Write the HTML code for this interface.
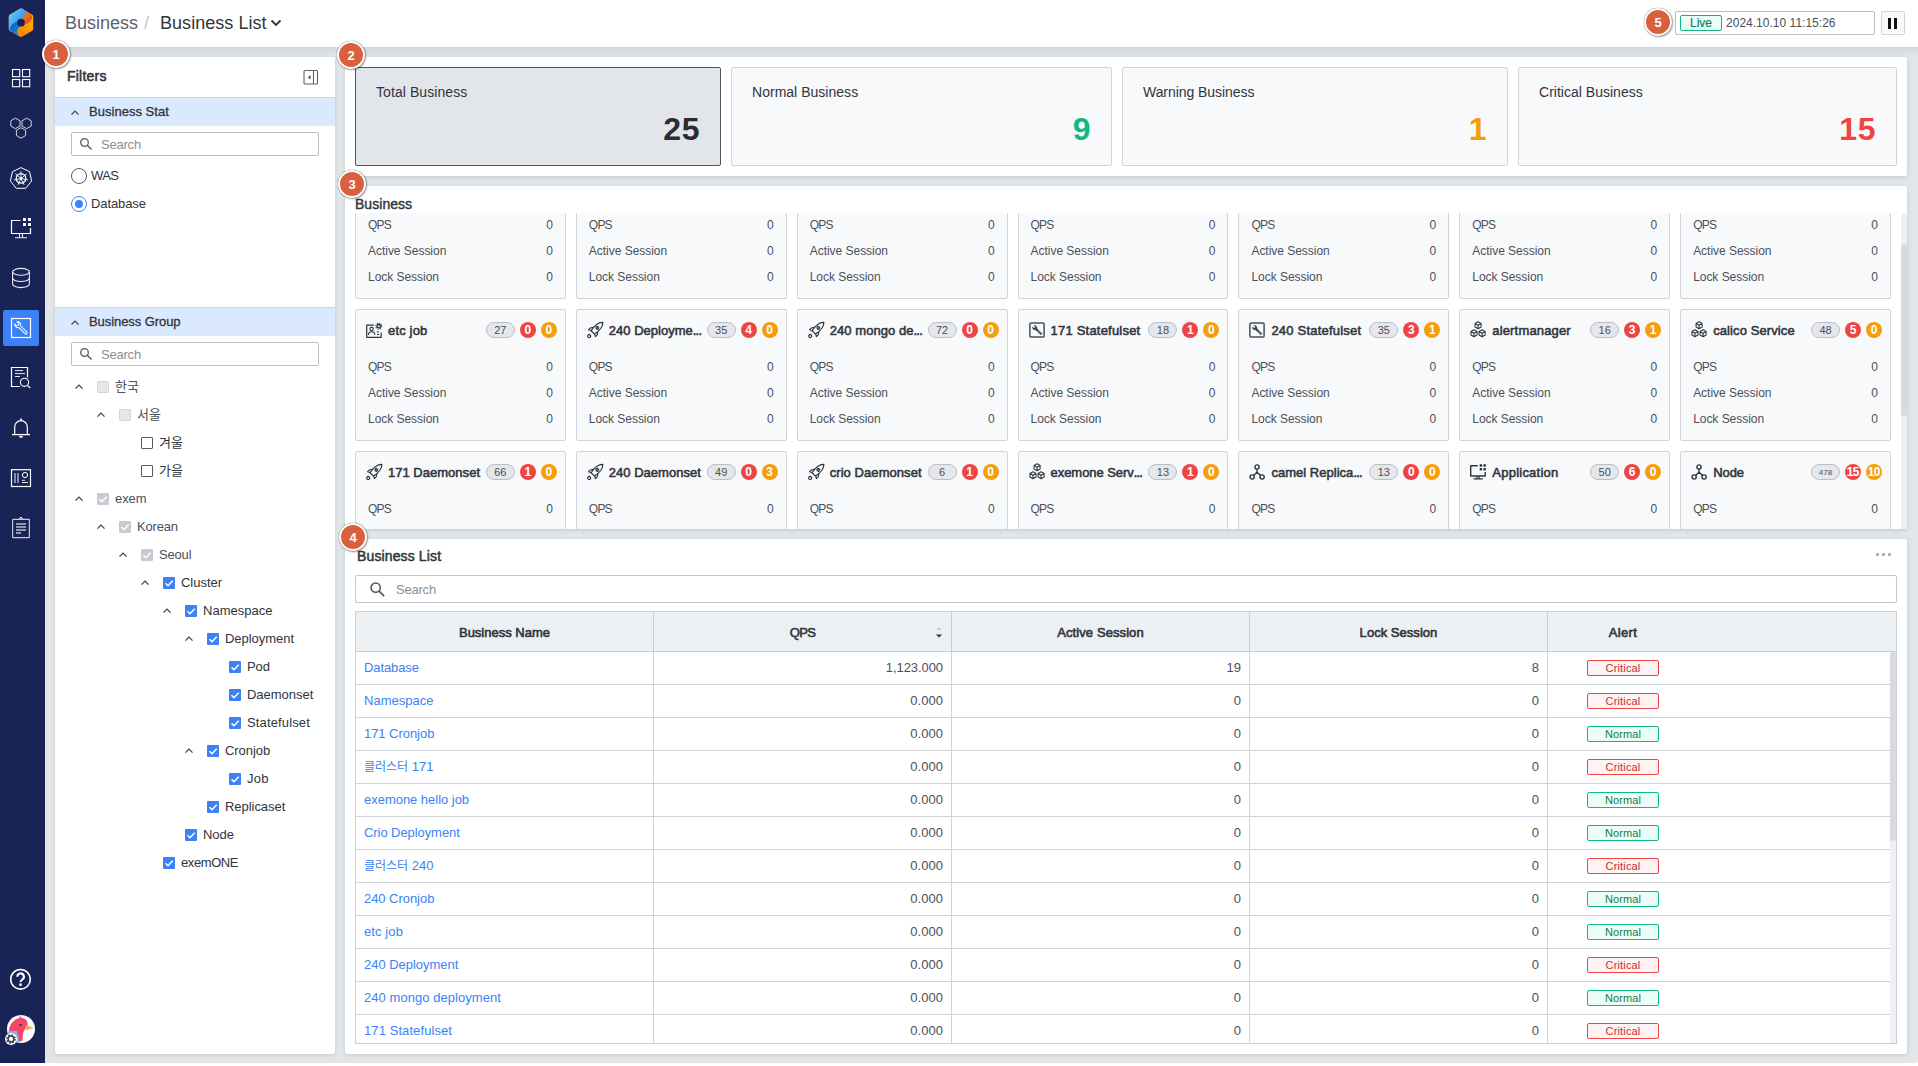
<!DOCTYPE html><html lang="ko"><head><meta charset="utf-8"><title>Business List</title><style>
*{box-sizing:border-box;margin:0;padding:0}
html,body{width:1918px;height:1066px;overflow:hidden;background:#fff}
body{position:relative;font-family:"Liberation Sans","Noto Sans CJK KR","NanumGothic",sans-serif;font-size:13px;color:#30353c;-webkit-font-smoothing:antialiased}
.abs{position:absolute}
.md{font-weight:normal;-webkit-text-stroke:.3px currentColor}
.bo{font-weight:normal;-webkit-text-stroke:.55px currentColor}
.ko{font-size:12px}
#side{left:0;top:0;width:45px;height:1063px;background:#182456}
#side .act{position:absolute;left:3px;top:310px;width:36px;height:36px;background:#3c82f6;border-radius:2px}
#hdr{left:45px;top:0;width:1873px;height:47px;background:#fff}
#main{left:45px;top:47px;width:1873px;height:1016px;background:#e2e6e9;border-bottom-right-radius:3px;
 background-image:linear-gradient(#d3d7dc,#e2e6e9 9px)}
.panel{position:absolute;background:#fff;border-radius:2px;box-shadow:0 1px 4px rgba(60,70,85,.18)}
.crumb{position:absolute;top:12px;font-size:18px;line-height:22px;white-space:nowrap}
.num{position:absolute;width:28px;height:28px;border-radius:50%;background:#d9603f;border:2px solid #fff;
 box-shadow:0 0 1px rgba(0,0,0,.7),1px 1px 2px rgba(0,0,0,.35);color:#fff;font-weight:bold;font-size:13px;line-height:25px;text-align:center;z-index:5}
.sec{position:absolute;left:0;width:280px;height:29px;background:#dbe9fe;border-top:1px solid #cfd6e0;font-size:13px;line-height:28px;padding-left:34px;color:#30353c;-webkit-text-stroke:.3px #30353c}
.sec svg{position:absolute;left:14px;top:10px}
.sbox{position:absolute;height:24px;border:1px solid #b9bec7;border-radius:2px;background:#fff;color:#8a8f98;font-size:13px;line-height:24px}
.sbox svg{position:absolute;left:7px;top:4px}
.tr{position:absolute;height:16px;line-height:16px;font-size:13px;white-space:nowrap;color:#30353c}
.cb{position:absolute;width:12px;height:12px;border-radius:1px}
.cb.on{background:#3c82f6}
.cb.off{border:1px solid #555b64;background:#fff}
.cb.dis{background:#e5e7eb;border:1px solid #d4d7dc}
.cb.dison{background:#c8ccd2}
.cb svg{position:absolute;left:0;top:0}
.stat{position:absolute;top:10px;height:99px;border:1px solid #d1d5db;border-radius:2px;background:#f8f9fb}
.stat.sel{background:#e2e5e9;border-color:#4b5563}
.stat .t{position:absolute;left:20px;top:15px;font-size:14px;line-height:18px;color:#30353c}
.stat .v{position:absolute;right:20px;top:41px;font-size:32px;line-height:40px;font-weight:bold}
#grid{position:absolute;left:10px;top:27px;width:1536px;height:316px;overflow:hidden}
#gridin{position:absolute;left:0;top:-46px;width:1536px;display:grid;grid-template-columns:repeat(7,1fr);gap:10px}
.card{position:relative;height:132px;border:1px solid #d1d5db;border-radius:2px;background:#f8f9fb}
.card .ti{position:absolute;left:32px;top:12px;font-size:13px;letter-spacing:.15px;line-height:18px;white-space:nowrap;color:#30353c;-webkit-text-stroke:.55px #30353c}
.card .ic{position:absolute;left:10px;top:12px;width:16px;height:16px}
.card .pill{position:absolute;right:50px;top:12px;width:29px;height:16px;border-radius:8px;border:1px solid #b9bec7;background:#e5e7eb;font-size:11px;line-height:14px;text-align:center;color:#4b5058}
.card .c1,.card .c2{position:absolute;top:12px;width:16px;height:16px;border-radius:50%;color:#fff;font-weight:bold;font-size:12px;line-height:17px;text-align:center}
.card .c1{right:29px;background:#ef4444}
.card .c2{right:8px;background:#f59e0b}
.card .l{position:absolute;left:12px;font-size:12px;line-height:16px;color:#4b5058}
.card .r{position:absolute;right:12px;font-size:12px;line-height:16px;color:#4b5058}
.th{position:absolute;top:72px;height:41px;background:#edf0f3;border:1px solid #c9ced6;border-left:none;font-size:13px;line-height:42px;text-align:center;color:#30353c;-webkit-text-stroke:.6px #30353c}
.row{position:absolute;left:10px;width:1536px;height:33px;border-bottom:1px solid #cfd3da}
.td{position:absolute;top:0;height:33px;line-height:32px;font-size:13px;border-right:1px solid #cfd3da;color:#4b5058;padding:0 8px;white-space:nowrap}
.td a{color:#3b82f6;text-decoration:none}
.bd{position:absolute;left:39px;top:8px;width:72px;height:16px;border-radius:2px;font-size:11px;line-height:14px;text-align:center}
.bd.c{border:1px solid #ef4444;background:#fef2f2;color:#c53030}
.bd.n{border:1px solid #10b981;background:#ecfdf5;color:#0f7a55}
</style></head><body>
<div id="side" class="abs">
<div class="act"></div>
<svg class="abs" style="left:0;top:0" width="45" height="1063" viewBox="0 0 45 1063" fill="none" stroke="#fff" stroke-width="1.1">
<defs><linearGradient id="lg1" x1="0" y1="0" x2="1" y2="1"><stop offset="0" stop-color="#62ccff"/><stop offset="1" stop-color="#2a7be8"/></linearGradient>
<linearGradient id="lg2" x1="0" y1="1" x2="1" y2="0"><stop offset="0" stop-color="#ff7a00"/><stop offset="1" stop-color="#ffb300"/></linearGradient>
<linearGradient id="lg3" x1="0" y1="0" x2="1" y2="1"><stop offset="0" stop-color="#f58a2a"/><stop offset="1" stop-color="#e2470f"/></linearGradient>
<linearGradient id="lg4" x1="0" y1="0" x2="1" y2="1"><stop offset="0" stop-color="#0f4fc4"/><stop offset="1" stop-color="#109be0"/></linearGradient></defs>
<g stroke="none">
<path d="M21 10.600 L31.200 16.500 V29 L21 34.900 L10.800 29 V16.500 Z" fill="url(#lg2)" stroke="url(#lg2)" stroke-width="4" stroke-linejoin="round"/>
<path d="M21 10.600 C23 10.600 24.500 12.500 24 14.500 C22.500 18 11 20 11.500 29.500 L10.800 29 V16.500 Z" fill="url(#lg1)" stroke="url(#lg1)" stroke-width="4" stroke-linejoin="round"/>
<path d="M10 29.500 C10 24 17 21 21 20.500 C19 24 20.500 26.500 18 29 C17 31 17 33 18.500 35.300 C16 35 12 32.500 10 29.500 Z" fill="url(#lg4)"/>
<path d="M25 11 C28 12 30.500 13.500 32 16 C33 19.500 30 22 26 24.500 C25 22 23 20.500 21 20.500 C23.500 18 26.500 15 25 11Z" fill="url(#lg3)"/>
<circle cx="21" cy="22.700" r="3.900" fill="#182456"/></g>
<rect x="12.5" y="69.5" width="7.200" height="7.200"/>
<rect x="12.5" y="79.5" width="7.200" height="7.200"/>
<rect x="22.5" y="69.5" width="7.200" height="7.200"/>
<rect x="22.5" y="79.5" width="7.200" height="7.200"/>
<polygon points="15.40,118.10 19.99,120.75 19.99,126.05 15.40,128.70 10.81,126.05 10.81,120.75" stroke-width=".9" stroke-opacity=".900"/>
<polygon points="26.60,118.10 31.19,120.75 31.19,126.05 26.60,128.70 22.01,126.05 22.01,120.75" stroke-width=".9" stroke-opacity=".900"/>
<polygon points="21.00,127.60 25.59,130.25 25.59,135.55 21.00,138.20 16.41,135.55 16.41,130.25" stroke-width=".9" stroke-opacity=".900"/>
<polygon points="21.00,167.60 29.52,171.70 31.63,180.93 25.73,188.32 16.27,188.32 10.37,180.93 12.48,171.70" stroke-linejoin="round" stroke-width="1"/>
<circle cx="21" cy="178.400" r="4.800" stroke-width="1.200"/>
<line x1="21" y1="178.400" x2="21.00" y2="171.20" stroke-width=".9"/>
<line x1="21" y1="178.400" x2="26.63" y2="173.91" stroke-width=".9"/>
<line x1="21" y1="178.400" x2="28.02" y2="180.00" stroke-width=".9"/>
<line x1="21" y1="178.400" x2="24.12" y2="184.89" stroke-width=".9"/>
<line x1="21" y1="178.400" x2="17.88" y2="184.89" stroke-width=".9"/>
<line x1="21" y1="178.400" x2="13.98" y2="180.00" stroke-width=".9"/>
<line x1="21" y1="178.400" x2="15.37" y2="173.91" stroke-width=".9"/>
<circle cx="21" cy="178.400" r="1.200" fill="#fff" stroke="none"/>
<path d="M20.500 220.500H11.500V233.500H30.500V228" stroke-width="1.200"/><path d="M19.500 233.500v4M22.500 233.500v4M15 237.700h12" stroke-width="1.100" stroke-opacity=".900"/>
<g fill="#fff" stroke="none"><rect x="23" y="218" width="3" height="3"/><rect x="28" y="218" width="3" height="3"/><rect x="23" y="223" width="3" height="3"/><rect x="28" y="223" width="3" height="3"/></g>
<g stroke-opacity=".900"><ellipse cx="21" cy="271.800" rx="8.400" ry="3.400"/><path d="M12.600 271.800v12.300c0 2 3.800 3.500 8.400 3.500s8.400-1.500 8.400-3.500v-12.300"/><path d="M12.500 278c0 2 3.800 3.500 8.500 3.500s8.500-1.500 8.500-3.500"/></g>
<rect x="11.500" y="318.500" width="19" height="19" stroke-width="1.200"/>
<g transform="translate(21 328) rotate(-45)"><path d="M-1.200 -1.600 V 6.800 a1.200 1.200 0 0 0 2.400 0 V -1.600 A3.500 3.500 0 0 0 1.600 -7.400 V -4.600 L0 -3.700 L-1.600 -4.600 V -7.400 A3.500 3.500 0 0 0 -1.200 -1.600 Z" stroke-width="1" stroke-linejoin="round"/></g>
<path d="M20 386.500H11.500V367.500H27.500V377.500" stroke-width="1.200"/><path d="M15 370.600h8M15 373.600h10M15 376.500h5" stroke-width="1" stroke-opacity=".900"/><circle cx="24.500" cy="382.300" r="4.100" stroke-width="1.100"/><path d="M27.500 385.300l2.700 2.700" stroke-width="1.200"/>
<path d="M14.700 434.500V427a6.300 6.300 0 0 1 12.600 0v7.500" stroke-width="1.200"/><path d="M12 434.600h18" stroke-width="1.300"/><path d="M21 418.500v2" stroke-width="1.600"/><path d="M19.300 436.800h3.400" stroke-width="1.600"/>
<rect x="11.500" y="469.700" width="19" height="16.800" stroke-width="1.200"/><path d="M15 473v10M18 473v10" stroke-width="1.600" stroke-opacity=".600"/><circle cx="25" cy="475" r="2.600" stroke-width="1"/><path d="M22 480.300h3M22 482.500h6" stroke-width="1" stroke-opacity=".900"/>
<rect x="12.600" y="519.300" width="16.800" height="18.400" rx=".8" stroke-width="1.200" stroke-opacity=".750"/><path d="M19.500 519a1.500 1.500 0 0 1 3 0" stroke-width="1"/><path d="M16 524h10M16 527h10M16 530h10M16 533h5" stroke-width="1.300" stroke-opacity=".700"/>
<circle cx="20.500" cy="979.300" r="9.800" stroke-width="1.600"/><path d="M17.300 976.700a3.300 3.300 0 1 1 4.900 2.900c-1.200.7-1.600 1.300-1.600 2.500" stroke-width="2.100"/><circle cx="20.500" cy="984.700" r="1.400" fill="#fff" stroke="none"/>
<g stroke="none"><circle cx="21" cy="1029" r="14" fill="#fff"/>
<path d="M9 1029c2-7 7-11 11-11l-.7-2.800 2.700 2.900c4 .5 6 3.500 5.500 7-.4 3-3 4-4 7-.9 3-.8 6-1 9-3 .4-6-.3-8-2.500l2-5.500-7 1z" fill="#f4476b"/>
<path d="M26 1025l7.500 2.700-7 2.800c-1.500-1.500-1.500-4-.5-5.500z" fill="#ffa55a"/>
<path d="M8 1031.500l8.500-.8c1.500 3 1.500 6 2.500 9.500l2 1.500c-5 1-10-1-13-6z" fill="#7fb9ea"/>
<circle cx="20.500" cy="1025" r="1" fill="#1a1a1a"/>
<circle cx="11" cy="1039" r="6" fill="#fff"/>
<circle cx="11" cy="1039" r="2.900" fill="none" stroke="#3a3f47" stroke-width="1.500"/>
<circle cx="11" cy="1039" r="4.100" fill="none" stroke="#3a3f47" stroke-width="1.500" stroke-dasharray="1.600 1.620"/></g>
</svg>
</div>
<div id="hdr" class="abs">
<div class="crumb" style="left:20px;color:#5b616b"><span style="letter-spacing:-0.021px">Business</span></div>
<div class="crumb" style="left:99px;color:#c3c7ce">/</div>
<div class="crumb" style="left:115px;color:#30353c"><span style="letter-spacing:0.041px">Business List</span></div>
<svg class="abs" style="left:225px;top:19px" width="12" height="8" viewBox="0 0 12 8"><path d="M1.500 1.500l4.500 4.500 4.500-4.500" fill="none" stroke="#30353c" stroke-width="1.800"/></svg>
<div class="abs" style="left:1630px;top:11px;width:200px;height:24px;border:1px solid #b9bec7;border-radius:2px;background:#fff"></div>
<div class="abs" style="left:1635px;top:15px;width:42px;height:16px;border:1px solid #10b981;border-radius:2px;background:#ecfdf5;color:#0f7a55;font-size:12px;line-height:15px;text-align:center;-webkit-text-stroke:.15px #0f7a55"><span style="letter-spacing:-0.043px">Live</span></div>
<div class="abs" style="left:1681px;top:14px;font-size:12px;line-height:18px;color:#4b5058;white-space:nowrap"><span style="letter-spacing:0.017px">2024.10.10 11:15:26</span></div>
<div class="abs" style="left:1836px;top:11px;width:24px;height:24px;border:1px solid #d1d5db;border-radius:2px;background:#f8f9fb"></div>
<div class="abs" style="left:1843px;top:18px;width:3px;height:11px;background:#111"></div><div class="abs" style="left:1849px;top:18px;width:3px;height:11px;background:#111"></div>
</div>
<div id="main" class="abs">
<div class="panel" style="left:10px;top:10px;width:280px;height:997px">
<div style="left:12px;top:10px;font-size:14px;line-height:18px;color:#30353c" class="abs bo"><span style="letter-spacing:0.228px">Filters</span></div>
<svg class="abs" style="left:248px;top:12px" width="16" height="16" viewBox="0 0 16 16"><rect x="1" y="1.500" width="13.500" height="13.500" rx="1" fill="none" stroke="#5d636d" stroke-width="1.100"/><path d="M10.500 1.500v13.500" stroke="#5d636d" stroke-width="1.100"/><path d="M7.500 6L4.800 8.200l2.700 2.300z" fill="#4b5058"/></svg>
<div class="sec" style="top:40px"><svg style="position:absolute;left:15px;top:11px" width="10" height="7" viewBox="0 0 10 7"><path d="M1.500 5.600L5 2.100l3.500 3.500" fill="none" stroke="#3a3f47" stroke-width="1.300"/></svg><span style="letter-spacing:0.023px">Business Stat</span></div>
<div class="sbox" style="left:16px;top:75px;width:248px;padding-left:29px"><svg width="14" height="14" viewBox="0 0 14 14"><circle cx="5.500" cy="5.500" r="3.800" fill="none" stroke="#555b64" stroke-width="1.300"/><path d="M8.300 8.300l4.200 4.200" stroke="#555b64" stroke-width="1.500"/></svg><span style="letter-spacing:-0.211px">Search</span></div>
<div class="abs" style="left:16px;top:111px;width:16px;height:16px;border-radius:50%;border:1px solid #555b64;background:#fff"></div>
<div class="tr" style="left:36px;top:111px"><span style="letter-spacing:-0.557px">WAS</span></div>
<div class="abs" style="left:16px;top:139px;width:16px;height:16px;border-radius:50%;border:1px solid #3c82f6;background:#fff"></div><div class="abs" style="left:20px;top:143px;width:8px;height:8px;border-radius:50%;background:#3c82f6"></div>
<div class="tr" style="left:36px;top:139px"><span style="letter-spacing:-0.094px">Database</span></div>
<div class="sec" style="top:250px"><svg style="position:absolute;left:15px;top:11px" width="10" height="7" viewBox="0 0 10 7"><path d="M1.500 5.600L5 2.100l3.500 3.500" fill="none" stroke="#3a3f47" stroke-width="1.300"/></svg><span style="letter-spacing:-0.075px">Business Group</span></div>
<div class="sbox" style="left:16px;top:285px;width:248px;padding-left:29px"><svg width="14" height="14" viewBox="0 0 14 14"><circle cx="5.500" cy="5.500" r="3.800" fill="none" stroke="#555b64" stroke-width="1.300"/><path d="M8.300 8.300l4.200 4.200" stroke="#555b64" stroke-width="1.500"/></svg><span style="letter-spacing:-0.211px">Search</span></div>
<div class="abs" style="left:19px;top:326px;line-height:0"><svg width="10" height="7" viewBox="0 0 10 7"><path d="M1.500 5.600L5 2.100l3.500 3.500" fill="none" stroke="#3a3f47" stroke-width="1.300"/></svg></div>
<div class="cb dis" style="left:42px;top:324px"></div>
<div class="tr ko" style="left:60px;top:322px;color:#4b5058">한국</div>
<div class="abs" style="left:41px;top:354px;line-height:0"><svg width="10" height="7" viewBox="0 0 10 7"><path d="M1.500 5.600L5 2.100l3.500 3.500" fill="none" stroke="#3a3f47" stroke-width="1.300"/></svg></div>
<div class="cb dis" style="left:64px;top:352px"></div>
<div class="tr ko" style="left:82px;top:350px;color:#4b5058">서울</div>
<div class="cb off" style="left:86px;top:380px"></div>
<div class="tr ko" style="left:104px;top:378px;color:#30353c">겨울</div>
<div class="cb off" style="left:86px;top:408px"></div>
<div class="tr ko" style="left:104px;top:406px;color:#30353c">가을</div>
<div class="abs" style="left:19px;top:438px;line-height:0"><svg width="10" height="7" viewBox="0 0 10 7"><path d="M1.500 5.600L5 2.100l3.500 3.500" fill="none" stroke="#3a3f47" stroke-width="1.300"/></svg></div>
<div class="cb dison" style="left:42px;top:436px"><svg width="12" height="12" viewBox="0 0 12 12"><path d="M2.500 6.200l2.500 2.500 4.700-5" fill="none" stroke="#fff" stroke-width="1.500"/></svg></div>
<div class="tr" style="left:60px;top:434px;color:#4b5058"><span style="letter-spacing:-0.070px">exem</span></div>
<div class="abs" style="left:41px;top:466px;line-height:0"><svg width="10" height="7" viewBox="0 0 10 7"><path d="M1.500 5.600L5 2.100l3.500 3.500" fill="none" stroke="#3a3f47" stroke-width="1.300"/></svg></div>
<div class="cb dison" style="left:64px;top:464px"><svg width="12" height="12" viewBox="0 0 12 12"><path d="M2.500 6.200l2.500 2.500 4.700-5" fill="none" stroke="#fff" stroke-width="1.500"/></svg></div>
<div class="tr" style="left:82px;top:462px;color:#4b5058"><span style="letter-spacing:-0.182px">Korean</span></div>
<div class="abs" style="left:63px;top:494px;line-height:0"><svg width="10" height="7" viewBox="0 0 10 7"><path d="M1.500 5.600L5 2.100l3.500 3.500" fill="none" stroke="#3a3f47" stroke-width="1.300"/></svg></div>
<div class="cb dison" style="left:86px;top:492px"><svg width="12" height="12" viewBox="0 0 12 12"><path d="M2.500 6.200l2.500 2.500 4.700-5" fill="none" stroke="#fff" stroke-width="1.500"/></svg></div>
<div class="tr" style="left:104px;top:490px;color:#4b5058"><span style="letter-spacing:-0.178px">Seoul</span></div>
<div class="abs" style="left:85px;top:522px;line-height:0"><svg width="10" height="7" viewBox="0 0 10 7"><path d="M1.500 5.600L5 2.100l3.500 3.500" fill="none" stroke="#3a3f47" stroke-width="1.300"/></svg></div>
<div class="cb on" style="left:108px;top:520px"><svg width="12" height="12" viewBox="0 0 12 12"><path d="M2.500 6.200l2.500 2.500 4.700-5" fill="none" stroke="#fff" stroke-width="1.500"/></svg></div>
<div class="tr" style="left:126px;top:518px;color:#30353c"><span style="letter-spacing:-0.018px">Cluster</span></div>
<div class="abs" style="left:107px;top:550px;line-height:0"><svg width="10" height="7" viewBox="0 0 10 7"><path d="M1.500 5.600L5 2.100l3.500 3.500" fill="none" stroke="#3a3f47" stroke-width="1.300"/></svg></div>
<div class="cb on" style="left:130px;top:548px"><svg width="12" height="12" viewBox="0 0 12 12"><path d="M2.500 6.200l2.500 2.500 4.700-5" fill="none" stroke="#fff" stroke-width="1.500"/></svg></div>
<div class="tr" style="left:148px;top:546px;color:#30353c"><span style="letter-spacing:0.005px">Namespace</span></div>
<div class="abs" style="left:129px;top:578px;line-height:0"><svg width="10" height="7" viewBox="0 0 10 7"><path d="M1.500 5.600L5 2.100l3.500 3.500" fill="none" stroke="#3a3f47" stroke-width="1.300"/></svg></div>
<div class="cb on" style="left:152px;top:576px"><svg width="12" height="12" viewBox="0 0 12 12"><path d="M2.500 6.200l2.500 2.500 4.700-5" fill="none" stroke="#fff" stroke-width="1.500"/></svg></div>
<div class="tr" style="left:170px;top:574px;color:#30353c"><span style="letter-spacing:-0.028px">Deployment</span></div>
<div class="cb on" style="left:174px;top:604px"><svg width="12" height="12" viewBox="0 0 12 12"><path d="M2.500 6.200l2.500 2.500 4.700-5" fill="none" stroke="#fff" stroke-width="1.500"/></svg></div>
<div class="tr" style="left:192px;top:602px;color:#30353c"><span style="letter-spacing:-0.089px">Pod</span></div>
<div class="cb on" style="left:174px;top:632px"><svg width="12" height="12" viewBox="0 0 12 12"><path d="M2.500 6.200l2.500 2.500 4.700-5" fill="none" stroke="#fff" stroke-width="1.500"/></svg></div>
<div class="tr" style="left:192px;top:630px;color:#30353c"><span style="letter-spacing:-0.014px">Daemonset</span></div>
<div class="cb on" style="left:174px;top:660px"><svg width="12" height="12" viewBox="0 0 12 12"><path d="M2.500 6.200l2.500 2.500 4.700-5" fill="none" stroke="#fff" stroke-width="1.500"/></svg></div>
<div class="tr" style="left:192px;top:658px;color:#30353c"><span style="letter-spacing:0.134px">Statefulset</span></div>
<div class="abs" style="left:129px;top:690px;line-height:0"><svg width="10" height="7" viewBox="0 0 10 7"><path d="M1.500 5.600L5 2.100l3.500 3.500" fill="none" stroke="#3a3f47" stroke-width="1.300"/></svg></div>
<div class="cb on" style="left:152px;top:688px"><svg width="12" height="12" viewBox="0 0 12 12"><path d="M2.500 6.200l2.500 2.500 4.700-5" fill="none" stroke="#fff" stroke-width="1.500"/></svg></div>
<div class="tr" style="left:170px;top:686px;color:#30353c"><span style="letter-spacing:-0.051px">Cronjob</span></div>
<div class="cb on" style="left:174px;top:716px"><svg width="12" height="12" viewBox="0 0 12 12"><path d="M2.500 6.200l2.500 2.500 4.700-5" fill="none" stroke="#fff" stroke-width="1.500"/></svg></div>
<div class="tr" style="left:192px;top:714px;color:#30353c"><span style="letter-spacing:0.307px">Job</span></div>
<div class="cb on" style="left:152px;top:744px"><svg width="12" height="12" viewBox="0 0 12 12"><path d="M2.500 6.200l2.500 2.500 4.700-5" fill="none" stroke="#fff" stroke-width="1.500"/></svg></div>
<div class="tr" style="left:170px;top:742px;color:#30353c"><span style="letter-spacing:-0.044px">Replicaset</span></div>
<div class="cb on" style="left:130px;top:772px"><svg width="12" height="12" viewBox="0 0 12 12"><path d="M2.500 6.200l2.500 2.500 4.700-5" fill="none" stroke="#fff" stroke-width="1.500"/></svg></div>
<div class="tr" style="left:148px;top:770px;color:#30353c"><span style="letter-spacing:-0.039px">Node</span></div>
<div class="cb on" style="left:108px;top:800px"><svg width="12" height="12" viewBox="0 0 12 12"><path d="M2.500 6.200l2.500 2.500 4.700-5" fill="none" stroke="#fff" stroke-width="1.500"/></svg></div>
<div class="tr" style="left:126px;top:798px;color:#30353c"><span style="letter-spacing:-0.406px">exemONE</span></div>
</div>
<div class="panel" style="left:300px;top:10px;width:1562px;height:119px">
<div class="stat sel" style="left:10px;width:366px"><div class="t"><span style="letter-spacing:0.081px">Total Business</span></div><div class="v" style="color:#282c33"><span style="letter-spacing:0.562px">25</span></div></div>
<div class="stat" style="left:386px;width:381px"><div class="t"><span style="letter-spacing:0.023px">Normal Business</span></div><div class="v" style="color:#10b981"><span style="letter-spacing:0.562px">9</span></div></div>
<div class="stat" style="left:777px;width:386px"><div class="t"><span style="letter-spacing:-0.055px">Warning Business</span></div><div class="v" style="color:#f59e0b"><span style="letter-spacing:0.562px">1</span></div></div>
<div class="stat" style="left:1173px;width:379px"><div class="t"><span style="letter-spacing:0.016px">Critical Business</span></div><div class="v" style="color:#ef4444"><span style="letter-spacing:0.562px">15</span></div></div>
</div>
<div class="panel" style="left:300px;top:139px;width:1562px;height:343px">
<div class="abs" style="left:10px;top:9px;font-size:14px;line-height:18px;color:#30353c;-webkit-text-stroke:.4px #30353c"><span style="letter-spacing:0.037px">Business</span></div>
<div id="grid"><div id="gridin">
<div class="card"><div class="l" style="top:49px"><span style="letter-spacing:-0.797px">QPS</span></div><div class="r" style="top:49px">0</div><div class="l" style="top:75px"><span style="letter-spacing:-0.029px">Active Session</span></div><div class="r" style="top:75px">0</div><div class="l" style="top:101px"><span style="letter-spacing:-0.038px">Lock Session</span></div><div class="r" style="top:101px">0</div></div>
<div class="card"><div class="l" style="top:49px"><span style="letter-spacing:-0.797px">QPS</span></div><div class="r" style="top:49px">0</div><div class="l" style="top:75px"><span style="letter-spacing:-0.029px">Active Session</span></div><div class="r" style="top:75px">0</div><div class="l" style="top:101px"><span style="letter-spacing:-0.038px">Lock Session</span></div><div class="r" style="top:101px">0</div></div>
<div class="card"><div class="l" style="top:49px"><span style="letter-spacing:-0.797px">QPS</span></div><div class="r" style="top:49px">0</div><div class="l" style="top:75px"><span style="letter-spacing:-0.029px">Active Session</span></div><div class="r" style="top:75px">0</div><div class="l" style="top:101px"><span style="letter-spacing:-0.038px">Lock Session</span></div><div class="r" style="top:101px">0</div></div>
<div class="card"><div class="l" style="top:49px"><span style="letter-spacing:-0.797px">QPS</span></div><div class="r" style="top:49px">0</div><div class="l" style="top:75px"><span style="letter-spacing:-0.029px">Active Session</span></div><div class="r" style="top:75px">0</div><div class="l" style="top:101px"><span style="letter-spacing:-0.038px">Lock Session</span></div><div class="r" style="top:101px">0</div></div>
<div class="card"><div class="l" style="top:49px"><span style="letter-spacing:-0.797px">QPS</span></div><div class="r" style="top:49px">0</div><div class="l" style="top:75px"><span style="letter-spacing:-0.029px">Active Session</span></div><div class="r" style="top:75px">0</div><div class="l" style="top:101px"><span style="letter-spacing:-0.038px">Lock Session</span></div><div class="r" style="top:101px">0</div></div>
<div class="card"><div class="l" style="top:49px"><span style="letter-spacing:-0.797px">QPS</span></div><div class="r" style="top:49px">0</div><div class="l" style="top:75px"><span style="letter-spacing:-0.029px">Active Session</span></div><div class="r" style="top:75px">0</div><div class="l" style="top:101px"><span style="letter-spacing:-0.038px">Lock Session</span></div><div class="r" style="top:101px">0</div></div>
<div class="card"><div class="l" style="top:49px"><span style="letter-spacing:-0.797px">QPS</span></div><div class="r" style="top:49px">0</div><div class="l" style="top:75px"><span style="letter-spacing:-0.029px">Active Session</span></div><div class="r" style="top:75px">0</div><div class="l" style="top:101px"><span style="letter-spacing:-0.038px">Lock Session</span></div><div class="r" style="top:101px">0</div></div>
<div class="card"><svg class="ic" viewBox="0 0 16 16" fill="none" stroke="#2f343b" stroke-width="1.300" stroke-linejoin="round" style="overflow:visible"><path d="M7.800 3.100H0.700V15.300H15.200V10.500" stroke-width="1.200"/><circle cx="5.600" cy="7.100" r="1.700" stroke-width="1.100"/><path d="M2.300 13.100c0-2.300 1.500-3.400 3.300-3.400s3.300 1.100 3.300 3.400" stroke-width="1.100"/><path d="M10.600 10h2.500M11 12.500h2.100" stroke-width="1.100"/><circle cx="12.800" cy="4.200" r="1.700" stroke-width="1.400"/><circle cx="12.800" cy="4.200" r="2.900" stroke-width="1.200" stroke-dasharray="1.140 1.140"/></svg><div class="ti"><span style="letter-spacing:0.165px">etc job</span></div><div class="pill">27</div><div class="c1">0</div><div class="c2">0</div><div class="l" style="top:49px"><span style="letter-spacing:-0.797px">QPS</span></div><div class="r" style="top:49px">0</div><div class="l" style="top:75px"><span style="letter-spacing:-0.029px">Active Session</span></div><div class="r" style="top:75px">0</div><div class="l" style="top:101px"><span style="letter-spacing:-0.038px">Lock Session</span></div><div class="r" style="top:101px">0</div></div>
<div class="card"><svg class="ic" viewBox="0 0 16 16" fill="none" stroke="#2f343b" stroke-width="1.300" stroke-linejoin="round" style="overflow:visible"><g transform="translate(8.900 7.300) rotate(45)"><path d="M0 -9.800C3.700 -6.500 3.500 -1 2.400 4.400H-2.400C-3.500 -1 -3.700 -6.500 0 -9.800Z" stroke-width="1.200"/><path d="M-3 0.300L-4.900 3V5.600L-2.500 4.200M3 0.300L4.900 3V5.600L2.500 4.200" stroke-width="1.100"/><circle cx="0" cy="-2" r="1.400" fill="#7a808a" stroke-width="1"/><circle cx="0" cy="9.500" r="1.500" stroke-width="1.200"/></g></svg><div class="ti"><span style="letter-spacing:0.007px">240 Deployme</span><span style="letter-spacing:-.8px">...</span></div><div class="pill">35</div><div class="c1">4</div><div class="c2">0</div><div class="l" style="top:49px"><span style="letter-spacing:-0.797px">QPS</span></div><div class="r" style="top:49px">0</div><div class="l" style="top:75px"><span style="letter-spacing:-0.029px">Active Session</span></div><div class="r" style="top:75px">0</div><div class="l" style="top:101px"><span style="letter-spacing:-0.038px">Lock Session</span></div><div class="r" style="top:101px">0</div></div>
<div class="card"><svg class="ic" viewBox="0 0 16 16" fill="none" stroke="#2f343b" stroke-width="1.300" stroke-linejoin="round" style="overflow:visible"><g transform="translate(8.900 7.300) rotate(45)"><path d="M0 -9.800C3.700 -6.500 3.500 -1 2.400 4.400H-2.400C-3.500 -1 -3.700 -6.500 0 -9.800Z" stroke-width="1.200"/><path d="M-3 0.300L-4.900 3V5.600L-2.500 4.200M3 0.300L4.900 3V5.600L2.500 4.200" stroke-width="1.100"/><circle cx="0" cy="-2" r="1.400" fill="#7a808a" stroke-width="1"/><circle cx="0" cy="9.500" r="1.500" stroke-width="1.200"/></g></svg><div class="ti"><span style="letter-spacing:0.059px">240 mongo de</span><span style="letter-spacing:-.8px">...</span></div><div class="pill">72</div><div class="c1">0</div><div class="c2">0</div><div class="l" style="top:49px"><span style="letter-spacing:-0.797px">QPS</span></div><div class="r" style="top:49px">0</div><div class="l" style="top:75px"><span style="letter-spacing:-0.029px">Active Session</span></div><div class="r" style="top:75px">0</div><div class="l" style="top:101px"><span style="letter-spacing:-0.038px">Lock Session</span></div><div class="r" style="top:101px">0</div></div>
<div class="card"><svg class="ic" viewBox="0 0 16 16" fill="none" stroke="#2f343b" stroke-width="1.300" stroke-linejoin="round" style="overflow:visible"><rect x="0.900" y="0.900" width="14.200" height="14.200" rx="1.200" stroke="#4b5058" stroke-width="1.500"/><g transform="translate(8.300 8.200) rotate(-45)"><path d="M-0.900 -1.700V5.700H0.900V-1.700A2.300 2.300 0 0 0 1.100 -5.600V-3.800L0 -3.200L-1.100 -3.800V-5.600A2.300 2.300 0 0 0 -0.900 -1.700Z" fill="#3a3f47" stroke-width=".5"/><path d="M-0.900 1.200h1.800M-0.900 2.700h1.800M-0.900 4.200h1.800" stroke="#f8f9fb" stroke-width=".5"/></g></svg><div class="ti"><span style="letter-spacing:0.208px">171 Statefulset</span></div><div class="pill">18</div><div class="c1">1</div><div class="c2">0</div><div class="l" style="top:49px"><span style="letter-spacing:-0.797px">QPS</span></div><div class="r" style="top:49px">0</div><div class="l" style="top:75px"><span style="letter-spacing:-0.029px">Active Session</span></div><div class="r" style="top:75px">0</div><div class="l" style="top:101px"><span style="letter-spacing:-0.038px">Lock Session</span></div><div class="r" style="top:101px">0</div></div>
<div class="card"><svg class="ic" viewBox="0 0 16 16" fill="none" stroke="#2f343b" stroke-width="1.300" stroke-linejoin="round" style="overflow:visible"><rect x="0.900" y="0.900" width="14.200" height="14.200" rx="1.200" stroke="#4b5058" stroke-width="1.500"/><g transform="translate(8.300 8.200) rotate(-45)"><path d="M-0.900 -1.700V5.700H0.900V-1.700A2.300 2.300 0 0 0 1.100 -5.600V-3.800L0 -3.200L-1.100 -3.800V-5.600A2.300 2.300 0 0 0 -0.900 -1.700Z" fill="#3a3f47" stroke-width=".5"/><path d="M-0.900 1.200h1.800M-0.900 2.700h1.800M-0.900 4.200h1.800" stroke="#f8f9fb" stroke-width=".5"/></g></svg><div class="ti"><span style="letter-spacing:0.208px">240 Statefulset</span></div><div class="pill">35</div><div class="c1">3</div><div class="c2">1</div><div class="l" style="top:49px"><span style="letter-spacing:-0.797px">QPS</span></div><div class="r" style="top:49px">0</div><div class="l" style="top:75px"><span style="letter-spacing:-0.029px">Active Session</span></div><div class="r" style="top:75px">0</div><div class="l" style="top:101px"><span style="letter-spacing:-0.038px">Lock Session</span></div><div class="r" style="top:101px">0</div></div>
<div class="card"><svg class="ic" viewBox="0 0 16 16" fill="none" stroke="#2f343b" stroke-width="1.050" stroke-linejoin="round" style="overflow:visible"><path d="M8.10 -0.20 L11.13 1.55 L11.13 5.05 L8.10 6.80 L5.07 5.05 L5.07 1.55Z M8.10 3.30 L5.07 1.55 M8.10 3.30 L11.13 1.55 M8.10 3.30 L8.10 6.80"/><path d="M4.00 7.70 L7.03 9.45 L7.03 12.95 L4.00 14.70 L0.97 12.95 L0.97 9.45Z M4.00 11.20 L0.97 9.45 M4.00 11.20 L7.03 9.45 M4.00 11.20 L4.00 14.70"/><path d="M12.10 7.70 L15.13 9.45 L15.13 12.95 L12.10 14.70 L9.07 12.95 L9.07 9.45Z M12.10 11.20 L9.07 9.45 M12.10 11.20 L15.13 9.45 M12.10 11.20 L12.10 14.70"/></svg><div class="ti"><span style="letter-spacing:0.164px">alertmanager</span></div><div class="pill">16</div><div class="c1">3</div><div class="c2">1</div><div class="l" style="top:49px"><span style="letter-spacing:-0.797px">QPS</span></div><div class="r" style="top:49px">0</div><div class="l" style="top:75px"><span style="letter-spacing:-0.029px">Active Session</span></div><div class="r" style="top:75px">0</div><div class="l" style="top:101px"><span style="letter-spacing:-0.038px">Lock Session</span></div><div class="r" style="top:101px">0</div></div>
<div class="card"><svg class="ic" viewBox="0 0 16 16" fill="none" stroke="#2f343b" stroke-width="1.050" stroke-linejoin="round" style="overflow:visible"><path d="M8.10 -0.20 L11.13 1.55 L11.13 5.05 L8.10 6.80 L5.07 5.05 L5.07 1.55Z M8.10 3.30 L5.07 1.55 M8.10 3.30 L11.13 1.55 M8.10 3.30 L8.10 6.80"/><path d="M4.00 7.70 L7.03 9.45 L7.03 12.95 L4.00 14.70 L0.97 12.95 L0.97 9.45Z M4.00 11.20 L0.97 9.45 M4.00 11.20 L7.03 9.45 M4.00 11.20 L4.00 14.70"/><path d="M12.10 7.70 L15.13 9.45 L15.13 12.95 L12.10 14.70 L9.07 12.95 L9.07 9.45Z M12.10 11.20 L9.07 9.45 M12.10 11.20 L15.13 9.45 M12.10 11.20 L12.10 14.70"/></svg><div class="ti"><span style="letter-spacing:0.105px">calico Service</span></div><div class="pill">48</div><div class="c1">5</div><div class="c2">0</div><div class="l" style="top:49px"><span style="letter-spacing:-0.797px">QPS</span></div><div class="r" style="top:49px">0</div><div class="l" style="top:75px"><span style="letter-spacing:-0.029px">Active Session</span></div><div class="r" style="top:75px">0</div><div class="l" style="top:101px"><span style="letter-spacing:-0.038px">Lock Session</span></div><div class="r" style="top:101px">0</div></div>
<div class="card"><svg class="ic" viewBox="0 0 16 16" fill="none" stroke="#2f343b" stroke-width="1.300" stroke-linejoin="round" style="overflow:visible"><g transform="translate(8.900 7.300) rotate(45)"><path d="M0 -9.800C3.700 -6.500 3.500 -1 2.400 4.400H-2.400C-3.500 -1 -3.700 -6.500 0 -9.800Z" stroke-width="1.200"/><path d="M-3 0.300L-4.900 3V5.600L-2.500 4.200M3 0.300L4.900 3V5.600L2.500 4.200" stroke-width="1.100"/><circle cx="0" cy="-2" r="1.400" fill="#7a808a" stroke-width="1"/><circle cx="0" cy="9.500" r="1.500" stroke-width="1.200"/></g></svg><div class="ti"><span style="letter-spacing:0.018px">171 Daemonset</span></div><div class="pill">66</div><div class="c1">1</div><div class="c2">0</div><div class="l" style="top:49px"><span style="letter-spacing:-0.797px">QPS</span></div><div class="r" style="top:49px">0</div><div class="l" style="top:75px"><span style="letter-spacing:-0.029px">Active Session</span></div><div class="r" style="top:75px">0</div><div class="l" style="top:101px"><span style="letter-spacing:-0.038px">Lock Session</span></div><div class="r" style="top:101px">0</div></div>
<div class="card"><svg class="ic" viewBox="0 0 16 16" fill="none" stroke="#2f343b" stroke-width="1.300" stroke-linejoin="round" style="overflow:visible"><g transform="translate(8.900 7.300) rotate(45)"><path d="M0 -9.800C3.700 -6.500 3.500 -1 2.400 4.400H-2.400C-3.500 -1 -3.700 -6.500 0 -9.800Z" stroke-width="1.200"/><path d="M-3 0.300L-4.900 3V5.600L-2.500 4.200M3 0.300L4.900 3V5.600L2.500 4.200" stroke-width="1.100"/><circle cx="0" cy="-2" r="1.400" fill="#7a808a" stroke-width="1"/><circle cx="0" cy="9.500" r="1.500" stroke-width="1.200"/></g></svg><div class="ti"><span style="letter-spacing:0.018px">240 Daemonset</span></div><div class="pill">49</div><div class="c1">0</div><div class="c2">3</div><div class="l" style="top:49px"><span style="letter-spacing:-0.797px">QPS</span></div><div class="r" style="top:49px">0</div><div class="l" style="top:75px"><span style="letter-spacing:-0.029px">Active Session</span></div><div class="r" style="top:75px">0</div><div class="l" style="top:101px"><span style="letter-spacing:-0.038px">Lock Session</span></div><div class="r" style="top:101px">0</div></div>
<div class="card"><svg class="ic" viewBox="0 0 16 16" fill="none" stroke="#2f343b" stroke-width="1.300" stroke-linejoin="round" style="overflow:visible"><g transform="translate(8.900 7.300) rotate(45)"><path d="M0 -9.800C3.700 -6.500 3.500 -1 2.400 4.400H-2.400C-3.500 -1 -3.700 -6.500 0 -9.800Z" stroke-width="1.200"/><path d="M-3 0.300L-4.900 3V5.600L-2.500 4.200M3 0.300L4.900 3V5.600L2.500 4.200" stroke-width="1.100"/><circle cx="0" cy="-2" r="1.400" fill="#7a808a" stroke-width="1"/><circle cx="0" cy="9.500" r="1.500" stroke-width="1.200"/></g></svg><div class="ti"><span style="letter-spacing:0.065px">crio Daemonset</span></div><div class="pill">6</div><div class="c1">1</div><div class="c2">0</div><div class="l" style="top:49px"><span style="letter-spacing:-0.797px">QPS</span></div><div class="r" style="top:49px">0</div><div class="l" style="top:75px"><span style="letter-spacing:-0.029px">Active Session</span></div><div class="r" style="top:75px">0</div><div class="l" style="top:101px"><span style="letter-spacing:-0.038px">Lock Session</span></div><div class="r" style="top:101px">0</div></div>
<div class="card"><svg class="ic" viewBox="0 0 16 16" fill="none" stroke="#2f343b" stroke-width="1.050" stroke-linejoin="round" style="overflow:visible"><path d="M8.10 -0.20 L11.13 1.55 L11.13 5.05 L8.10 6.80 L5.07 5.05 L5.07 1.55Z M8.10 3.30 L5.07 1.55 M8.10 3.30 L11.13 1.55 M8.10 3.30 L8.10 6.80"/><path d="M4.00 7.70 L7.03 9.45 L7.03 12.95 L4.00 14.70 L0.97 12.95 L0.97 9.45Z M4.00 11.20 L0.97 9.45 M4.00 11.20 L7.03 9.45 M4.00 11.20 L4.00 14.70"/><path d="M12.10 7.70 L15.13 9.45 L15.13 12.95 L12.10 14.70 L9.07 12.95 L9.07 9.45Z M12.10 11.20 L9.07 9.45 M12.10 11.20 L15.13 9.45 M12.10 11.20 L12.10 14.70"/></svg><div class="ti"><span style="letter-spacing:-0.056px">exemone Serv</span><span style="letter-spacing:-.8px">...</span></div><div class="pill">13</div><div class="c1">1</div><div class="c2">0</div><div class="l" style="top:49px"><span style="letter-spacing:-0.797px">QPS</span></div><div class="r" style="top:49px">0</div><div class="l" style="top:75px"><span style="letter-spacing:-0.029px">Active Session</span></div><div class="r" style="top:75px">0</div><div class="l" style="top:101px"><span style="letter-spacing:-0.038px">Lock Session</span></div><div class="r" style="top:101px">0</div></div>
<div class="card"><svg class="ic" viewBox="0 0 16 16" fill="none" stroke="#2f343b" stroke-width="1.400" stroke-linejoin="round" style="overflow:visible"><circle cx="8" cy="3" r="2.100"/><circle cx="3.100" cy="13" r="2.100"/><circle cx="13.100" cy="13" r="2.100"/><path d="M8 5.200V8.400M8 8.300L4.600 11.400M8 8.300L11.600 11.400"/></svg><div class="ti"><span style="letter-spacing:0.024px">camel Replica</span><span style="letter-spacing:-.8px">...</span></div><div class="pill">13</div><div class="c1">0</div><div class="c2">0</div><div class="l" style="top:49px"><span style="letter-spacing:-0.797px">QPS</span></div><div class="r" style="top:49px">0</div><div class="l" style="top:75px"><span style="letter-spacing:-0.029px">Active Session</span></div><div class="r" style="top:75px">0</div><div class="l" style="top:101px"><span style="letter-spacing:-0.038px">Lock Session</span></div><div class="r" style="top:101px">0</div></div>
<div class="card"><svg class="ic" viewBox="0 0 16 16" fill="none" stroke="#2f343b" stroke-width="1.400" stroke-linejoin="round" style="overflow:visible"><path d="M7.800 1.800H0.700V12H15.200V8"/><path d="M6.900 12v2.600M9.100 12v2.600M3.400 14.800h9.400" stroke-width="1.200"/><g fill="#1f2329" stroke="none"><rect x="9.700" y="0.300" width="2.300" height="2.300"/><rect x="13.400" y="0.300" width="2.400" height="2.300"/><rect x="9.700" y="4.100" width="2.300" height="2.300"/><rect x="13.400" y="4.100" width="2.400" height="2.300"/></g></svg><div class="ti"><span style="letter-spacing:0.239px">Application</span></div><div class="pill">50</div><div class="c1">6</div><div class="c2">0</div><div class="l" style="top:49px"><span style="letter-spacing:-0.797px">QPS</span></div><div class="r" style="top:49px">0</div><div class="l" style="top:75px"><span style="letter-spacing:-0.029px">Active Session</span></div><div class="r" style="top:75px">0</div><div class="l" style="top:101px"><span style="letter-spacing:-0.038px">Lock Session</span></div><div class="r" style="top:101px">0</div></div>
<div class="card"><svg class="ic" viewBox="0 0 16 16" fill="none" stroke="#2f343b" stroke-width="1.400" stroke-linejoin="round" style="overflow:visible"><circle cx="8" cy="3" r="2.100"/><circle cx="3.100" cy="13" r="2.100"/><circle cx="13.100" cy="13" r="2.100"/><path d="M8 5.200V8.400M8 8.300L4.600 11.400M8 8.300L11.600 11.400"/></svg><div class="ti"><span style="letter-spacing:-0.055px">Node</span></div><div class="pill" style="font-size:8px;line-height:15px">478</div><div class="c1" style="font-size:12px;letter-spacing:-0.600px;text-indent:-0.600px">15</div><div class="c2" style="font-size:12px;letter-spacing:-0.600px;text-indent:-0.600px">10</div><div class="l" style="top:49px"><span style="letter-spacing:-0.797px">QPS</span></div><div class="r" style="top:49px">0</div><div class="l" style="top:75px"><span style="letter-spacing:-0.029px">Active Session</span></div><div class="r" style="top:75px">0</div><div class="l" style="top:101px"><span style="letter-spacing:-0.038px">Lock Session</span></div><div class="r" style="top:101px">0</div></div>
</div></div>
<div class="abs" style="left:1556px;top:27px;width:6px;height:316px;background:#eef0f3;border-radius:3px 3px 0 0"></div>
<div class="abs" style="left:1556px;top:58px;width:6px;height:172px;background:#d7dadf;border-radius:3px"></div>
</div>
<div class="panel" style="left:300px;top:492px;width:1562px;height:515px">
<div class="abs" style="left:12px;top:8px;font-size:14px;line-height:18px;color:#30353c;-webkit-text-stroke:.5px #30353c"><span style="letter-spacing:0.129px">Business List</span></div>
<div class="abs" style="left:1531px;top:14px;width:3px;height:3px;border-radius:50%;background:#9aa0a8;box-shadow:6px 0 0 #9aa0a8,12px 0 0 #9aa0a8"></div>
<div class="sbox" style="left:10px;top:36px;width:1542px;height:28px;border-color:#c3c7cd;line-height:28px;padding-left:40px"><svg style="left:13px;top:5px" width="17" height="17" viewBox="0 0 14 14"><circle cx="5.500" cy="5.500" r="3.800" fill="none" stroke="#555b64" stroke-width="1.300"/><path d="M8.300 8.300l4.200 4.200" stroke="#555b64" stroke-width="1.500"/></svg><span style="letter-spacing:-0.211px">Search</span></div>
<div class="abs" style="left:10px;top:72px;width:1px;height:433px;background:#c9ced6"></div>
<div class="th" style="left:11px;width:298px">Business Name</div>
<div class="th" style="left:309px;width:298px"><span style="letter-spacing:-0.703px">QPS</span></div>
<div class="th" style="left:607px;width:298px"><span style="letter-spacing:0.092px">Active Session</span></div>
<div class="th" style="left:905px;width:298px"><span style="letter-spacing:0.036px">Lock Session</span></div>
<div class="th" style="left:1203px;width:349px;text-align:left"><span style="display:inline-block;width:150px;text-align:center"><span style="letter-spacing:0.391px">Alert</span></span></div>
<svg class="abs" style="left:589px;top:85px" width="10" height="16" viewBox="0 0 10 16"><path d="M2.200 6L5 3l2.800 3z" fill="#c9cdd3"/><path d="M1.900 10.400L5 13.600l3.100-3.200z" fill="#30353c"/></svg>
<div class="abs" style="left:0;top:113px;width:1552px;height:391px;overflow:hidden">
<div class="row" style="top:0px">
<div class="td" style="left:1px;width:298px"><a><span style="letter-spacing:-0.094px">Database</span></a></div>
<div class="td" style="left:299px;width:298px;text-align:right"><span style="letter-spacing:-0.078px">1,123.000</span></div>
<div class="td" style="left:597px;width:298px;text-align:right">19</div>
<div class="td" style="left:895px;width:298px;text-align:right">8</div>
<div class="td" style="left:1193px;width:343px;border-right:none"><div class="bd c"><span style="letter-spacing:0.150px">Critical</span></div></div>
</div>
<div class="row" style="top:33px">
<div class="td" style="left:1px;width:298px"><a><span style="letter-spacing:0.005px">Namespace</span></a></div>
<div class="td" style="left:299px;width:298px;text-align:right"><span style="letter-spacing:0.022px">0.000</span></div>
<div class="td" style="left:597px;width:298px;text-align:right">0</div>
<div class="td" style="left:895px;width:298px;text-align:right">0</div>
<div class="td" style="left:1193px;width:343px;border-right:none"><div class="bd c"><span style="letter-spacing:0.150px">Critical</span></div></div>
</div>
<div class="row" style="top:66px">
<div class="td" style="left:1px;width:298px"><a><span style="letter-spacing:-0.047px">171 Cronjob</span></a></div>
<div class="td" style="left:299px;width:298px;text-align:right"><span style="letter-spacing:0.022px">0.000</span></div>
<div class="td" style="left:597px;width:298px;text-align:right">0</div>
<div class="td" style="left:895px;width:298px;text-align:right">0</div>
<div class="td" style="left:1193px;width:343px;border-right:none"><div class="bd n"><span style="letter-spacing:0.133px">Normal</span></div></div>
</div>
<div class="row" style="top:99px">
<div class="td" style="left:1px;width:298px"><a><span class="ko">클러스터</span> 171</a></div>
<div class="td" style="left:299px;width:298px;text-align:right"><span style="letter-spacing:0.022px">0.000</span></div>
<div class="td" style="left:597px;width:298px;text-align:right">0</div>
<div class="td" style="left:895px;width:298px;text-align:right">0</div>
<div class="td" style="left:1193px;width:343px;border-right:none"><div class="bd c"><span style="letter-spacing:0.150px">Critical</span></div></div>
</div>
<div class="row" style="top:132px">
<div class="td" style="left:1px;width:298px"><a><span style="letter-spacing:-0.028px">exemone hello job</span></a></div>
<div class="td" style="left:299px;width:298px;text-align:right"><span style="letter-spacing:0.022px">0.000</span></div>
<div class="td" style="left:597px;width:298px;text-align:right">0</div>
<div class="td" style="left:895px;width:298px;text-align:right">0</div>
<div class="td" style="left:1193px;width:343px;border-right:none"><div class="bd n"><span style="letter-spacing:0.133px">Normal</span></div></div>
</div>
<div class="row" style="top:165px">
<div class="td" style="left:1px;width:298px"><a><span style="letter-spacing:-0.072px">Crio Deployment</span></a></div>
<div class="td" style="left:299px;width:298px;text-align:right"><span style="letter-spacing:0.022px">0.000</span></div>
<div class="td" style="left:597px;width:298px;text-align:right">0</div>
<div class="td" style="left:895px;width:298px;text-align:right">0</div>
<div class="td" style="left:1193px;width:343px;border-right:none"><div class="bd n"><span style="letter-spacing:0.133px">Normal</span></div></div>
</div>
<div class="row" style="top:198px">
<div class="td" style="left:1px;width:298px"><a><span class="ko">클러스터</span> 240</a></div>
<div class="td" style="left:299px;width:298px;text-align:right"><span style="letter-spacing:0.022px">0.000</span></div>
<div class="td" style="left:597px;width:298px;text-align:right">0</div>
<div class="td" style="left:895px;width:298px;text-align:right">0</div>
<div class="td" style="left:1193px;width:343px;border-right:none"><div class="bd c"><span style="letter-spacing:0.150px">Critical</span></div></div>
</div>
<div class="row" style="top:231px">
<div class="td" style="left:1px;width:298px"><a><span style="letter-spacing:-0.047px">240 Cronjob</span></a></div>
<div class="td" style="left:299px;width:298px;text-align:right"><span style="letter-spacing:0.022px">0.000</span></div>
<div class="td" style="left:597px;width:298px;text-align:right">0</div>
<div class="td" style="left:895px;width:298px;text-align:right">0</div>
<div class="td" style="left:1193px;width:343px;border-right:none"><div class="bd n"><span style="letter-spacing:0.133px">Normal</span></div></div>
</div>
<div class="row" style="top:264px">
<div class="td" style="left:1px;width:298px"><a><span style="letter-spacing:0.098px">etc job</span></a></div>
<div class="td" style="left:299px;width:298px;text-align:right"><span style="letter-spacing:0.022px">0.000</span></div>
<div class="td" style="left:597px;width:298px;text-align:right">0</div>
<div class="td" style="left:895px;width:298px;text-align:right">0</div>
<div class="td" style="left:1193px;width:343px;border-right:none"><div class="bd n"><span style="letter-spacing:0.133px">Normal</span></div></div>
</div>
<div class="row" style="top:297px">
<div class="td" style="left:1px;width:298px"><a><span style="letter-spacing:-0.031px">240 Deployment</span></a></div>
<div class="td" style="left:299px;width:298px;text-align:right"><span style="letter-spacing:0.022px">0.000</span></div>
<div class="td" style="left:597px;width:298px;text-align:right">0</div>
<div class="td" style="left:895px;width:298px;text-align:right">0</div>
<div class="td" style="left:1193px;width:343px;border-right:none"><div class="bd c"><span style="letter-spacing:0.150px">Critical</span></div></div>
</div>
<div class="row" style="top:330px">
<div class="td" style="left:1px;width:298px"><a><span style="letter-spacing:0.055px">240 mongo deployment</span></a></div>
<div class="td" style="left:299px;width:298px;text-align:right"><span style="letter-spacing:0.022px">0.000</span></div>
<div class="td" style="left:597px;width:298px;text-align:right">0</div>
<div class="td" style="left:895px;width:298px;text-align:right">0</div>
<div class="td" style="left:1193px;width:343px;border-right:none"><div class="bd n"><span style="letter-spacing:0.133px">Normal</span></div></div>
</div>
<div class="row" style="top:363px">
<div class="td" style="left:1px;width:298px"><a><span style="letter-spacing:0.087px">171 Statefulset</span></a></div>
<div class="td" style="left:299px;width:298px;text-align:right"><span style="letter-spacing:0.022px">0.000</span></div>
<div class="td" style="left:597px;width:298px;text-align:right">0</div>
<div class="td" style="left:895px;width:298px;text-align:right">0</div>
<div class="td" style="left:1193px;width:343px;border-right:none"><div class="bd c"><span style="letter-spacing:0.150px">Critical</span></div></div>
</div>
</div>
<div class="abs" style="left:10px;top:504px;width:1542px;height:1px;background:#c9ced6"></div>
<div class="abs" style="left:1551px;top:72px;width:1px;height:433px;background:#c9ced6"></div>
<div class="abs" style="left:1545px;top:113px;width:6px;height:391px;background:#eef0f3"></div>
<div class="abs" style="left:1545px;top:113px;width:6px;height:189px;background:#d7dadf;border-radius:3px"></div>
</div>
</div>
<div class="num" style="left:42.0px;top:40.0px">1</div>
<div class="num" style="left:337.0px;top:41.0px">2</div>
<div class="num" style="left:338.0px;top:170.0px">3</div>
<div class="num" style="left:339.0px;top:523.0px">4</div>
<div class="num" style="left:1644.0px;top:8.0px">5</div>
</body></html>
